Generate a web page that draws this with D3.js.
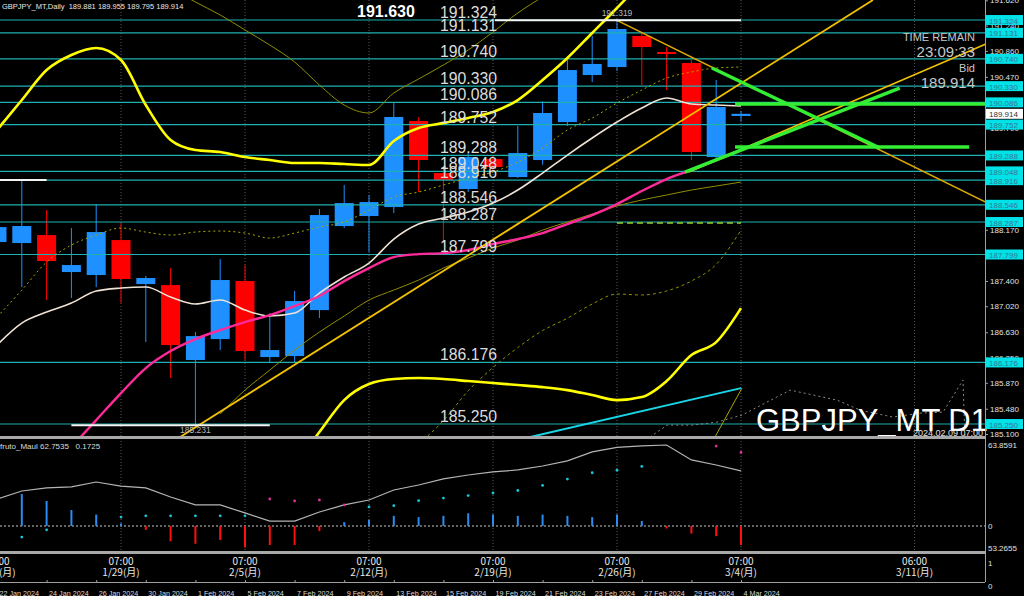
<!DOCTYPE html>
<html><head><meta charset="utf-8">
<script src="https://cdn.jsdelivr.net/npm/d3@7"></script>
<style>
body{margin:0;background:#000;overflow:hidden}
svg{display:block;font-family:"Liberation Sans",Arial,sans-serif}
</style></head>
<body><svg id="c" width="1024" height="596"></svg>
<script>
// ---------- DATA ----------
const dates = ["22 Jan 2024","23 Jan 2024","24 Jan 2024","25 Jan 2024","26 Jan 2024","29 Jan 2024","30 Jan 2024","31 Jan 2024","1 Feb 2024","2 Feb 2024","5 Feb 2024","6 Feb 2024","7 Feb 2024","8 Feb 2024","9 Feb 2024","12 Feb 2024","13 Feb 2024","14 Feb 2024","15 Feb 2024","16 Feb 2024","19 Feb 2024","20 Feb 2024","21 Feb 2024","22 Feb 2024","23 Feb 2024","26 Feb 2024","27 Feb 2024","28 Feb 2024","29 Feb 2024","1 Mar 2024","4 Mar 2024"];
const open  = [187.986,187.971,188.091,187.535,187.490,188.016,187.354,187.339,186.212,186.527,187.400,186.257,186.272,186.963,188.226,188.377,188.512,189.805,189.024,188.783,189.234,188.963,189.219,189.790,190.497,190.617,191.084,190.843,190.678,189.264,189.881];
const high  = [188.350,188.918,188.467,188.196,188.557,188.272,187.475,187.595,186.633,187.730,187.640,186.918,187.249,188.482,188.843,188.693,190.076,189.866,189.090,189.340,189.290,189.730,190.100,190.723,191.084,191.319,191.130,190.918,190.723,190.422,189.955];
const low   = [187.900,187.309,187.114,187.144,187.309,187.069,186.482,185.941,185.231,186.362,186.212,186.167,186.181,186.843,188.196,187.836,188.422,188.738,187.971,188.738,189.050,188.950,189.150,189.730,190.392,190.557,190.347,190.272,189.219,189.219,189.795];
const close = [188.211,188.227,187.700,187.640,188.136,187.430,187.445,186.437,186.572,187.415,186.347,186.362,187.099,188.392,188.572,188.587,189.866,189.219,188.918,189.264,189.114,189.324,189.926,190.572,190.663,191.189,190.918,190.813,189.339,190.016,189.914];

const maWhite   = [186.437,186.768,186.933,187.069,187.249,187.294,187.309,187.159,187.054,187.114,186.963,186.873,186.918,187.219,187.460,187.670,188.031,188.257,188.347,188.437,188.572,188.768,189.023,189.294,189.550,189.790,190.001,190.151,190.061,190.046,190.031];
const maMagenta = [null,null,null,184.903,185.309,185.715,186.091,186.347,186.527,186.663,186.783,186.888,187.023,187.174,187.399,187.595,187.760,187.805,187.820,187.866,187.956,188.031,188.121,188.257,188.392,188.557,188.753,188.933,189.069,189.219,189.369];
const bandUpper2 = [189.670,190.121,190.572,190.798,190.903,190.723,190.046,189.520,189.369,189.339,189.264,189.219,189.174,189.174,189.159,189.144,189.505,189.700,189.775,189.851,189.941,190.121,190.422,190.753,191.129,191.505,191.896,null,null,null,null];
const bandLower2 = [null,null,null,null,null,null,null,null,null,null,null,null,184.633,185.129,185.610,185.851,185.926,185.941,185.926,185.896,185.866,185.836,185.805,185.760,185.685,185.610,185.655,185.896,186.287,186.482,186.993];
const bandUpper3 = [null,null,null,null,null,null,null,191.800,191.595,191.400,191.174,190.948,190.693,190.347,190.046,189.926,190.227,190.437,190.648,190.873,191.144,191.430,191.670,null,null,null,null,null,null,null,null];
const bandUpper1 = [186.858,187.264,187.685,187.941,188.091,188.197,188.136,188.091,188.136,188.152,188.121,188.046,188.121,188.212,188.287,188.467,188.663,188.738,188.843,188.948,189.039,189.189,189.400,189.670,189.851,190.076,190.272,190.452,190.542,190.603,190.617];
const bandLower1 = [null,null,null,null,null,null,null,null,null,185.400,185.760,186.061,186.362,186.633,186.873,187.114,187.264,187.414,187.595,187.745,187.896,188.016,188.166,188.287,188.407,188.528,188.618,188.693,188.768,188.828,188.888];
const bandLower1d = [null,null,null,null,null,null,null,null,null,null,null,null,null,null,null,null,null,184.950,185.300,185.750,186.100,186.400,186.655,186.841,187.054,187.204,187.190,187.250,187.400,187.650,188.166];

const levels = [191.324,191.131,190.740,190.330,190.086,189.752,189.288,189.048,188.916,188.546,188.287,187.799,186.176,185.250];
const priceTicks = [185.100,185.480,185.870,186.250,186.630,187.020,187.400,187.790,188.170,188.550,188.930,189.310,189.700,190.080,190.470,190.860,191.240,191.620];
const bid = 189.914;

// trend lines: [index, price] pairs
const trendB = [[7.38,185.054],[35.32,191.625]];
const trendC = [[27.9,189.040],[41.4,191.210]];
const trendD = [[25.0,191.319],[39.84,188.590]];
const greenLines = [
  [[28.83,190.602],[35.60,189.399]],
  [[27.74,189.038],[36.40,190.300]],
  [[29.76,190.061],[39.84,190.061]],
  [[29.76,189.414],[39.20,189.414]]
];
const cyanTrend = [[21.49,185.054],[30.0,185.790]];
const oliveSteep = [[28.95,185.054],[30.04,185.790]];
const futureDots = [[26.33,185.054],[27.02,185.234],[28.06,185.234],[29.03,185.279],[30.04,185.384],[31.98,185.760],[33.87,185.610],[34.8,185.459],[36.13,185.354],[37.22,185.414],[38.15,185.429],[38.95,185.911],[39.03,185.054]];
const limeDash = [[25.0,188.272],[30.0,188.272]];
const whiteMarks = [[-0.2,2.0,188.918],[20.08,30.0,191.319],[3.0,11.0,185.231]];

// indicator panel
const oscLine = [21.3,27.6,30.0,30.8,34.7,31.5,30.0,22.9,16.6,16.6,10.3,3.9,3.9,11.0,16.6,20.5,28.4,32.3,37.1,40.2,42.6,44.2,47.3,51.3,58.4,62.0,63.2,63.86,52.1,48.1,43.4];
const histVals = [0,25.2,19.7,12.6,9.0,2.0,-3.0,-12.0,-14.0,-11.0,-17.0,-15.0,-15.0,-4.0,3.0,5.0,8.0,7.0,8.0,10.0,9.0,8.0,9.0,8.0,7.0,9.0,4.0,-2.0,-6.0,-8.0,-15.0];
const dotVals  = [null,-8.7,-3.0,null,null,7.0,8.0,8.0,8.0,8.0,8.0,21.3,19.7,20.5,16.6,15.0,16.0,20.0,22.0,24.0,26.0,28.0,32.0,37.0,42.0,44.0,47.0,null,null,63.0,58.0];
const dotPink  = [0,0,0,0,0,0,0,0,0,0,0,1,1,1,1,0,0,0,0,0,0,0,0,0,0,0,0,0,0,1,1];

const weekLabels = [{i:0,t:"07:00",d:"1/22(月)"},{i:5,t:"07:00",d:"1/29(月)"},{i:10,t:"07:00",d:"2/5(月)"},{i:15,t:"07:00",d:"2/12(月)"},{i:20,t:"07:00",d:"2/19(月)"},{i:25,t:"07:00",d:"2/26(月)"},{i:30,t:"07:00",d:"3/4(月)"},{i:37,t:"06:00",d:"3/11(月)"}];

// ---------- SCALES ----------
const svg = d3.select("#c");
const x = d3.scaleLinear().domain([0,30]).range([-3,741]);
const y = d3.scaleLinear().domain([185.100,191.625]).range([434,0]);
const yi = d3.scaleLinear().domain([0,63.8591]).range([526,445]);
const AX = 985;

svg.append("rect").attr("width",1024).attr("height",596).attr("fill","#000");
const defs = svg.append("defs");
defs.append("clipPath").attr("id","cm").append("rect").attr("x",0).attr("y",0).attr("width",AX).attr("height",436);
defs.append("clipPath").attr("id","ci").append("rect").attr("x",0).attr("y",440).attr("width",AX).attr("height",111);

// grid (dotted verticals)
const gridIdx = [0,5,10,15,20,25,30,37];
svg.append("g").selectAll("line").data(gridIdx).join("line")
  .attr("x1",d=>x(d)).attr("x2",d=>x(d)).attr("y1",0).attr("y2",551)
  .attr("stroke","#5a5a5a").attr("stroke-dasharray","1,2");

const main = svg.append("g").attr("clip-path","url(#cm)");

// candles
const cg = main.append("g");
d3.range(31).forEach(i=>{
  const up = close[i] >= open[i];
  const col = up ? "#1e90ff" : "#ff0000";
  cg.append("line").attr("x1",x(i)).attr("x2",x(i)).attr("y1",y(high[i])).attr("y2",y(low[i])).attr("stroke",col).attr("stroke-width",1);
  const t = y(Math.max(open[i],close[i])), b = y(Math.min(open[i],close[i]));
  cg.append("rect").attr("x",x(i)-9.5).attr("width",19).attr("y",t).attr("height",Math.max(1.5,b-t)).attr("fill",col);
});

const ln = d3.line().defined(d=>d!=null).x((d,i)=>x(i)).y(d=>y(d)).curve(d3.curveMonotoneX);
const lp = d3.line().x(d=>x(d[0])).y(d=>y(d[1]));
function series(arr,col,w,dash){ main.append("path").attr("d",ln(arr)).attr("fill","none").attr("stroke",col).attr("stroke-width",w).attr("stroke-dasharray",dash||null); }
function seg(pts,col,w,dash){ main.append("path").attr("d",lp(pts)).attr("fill","none").attr("stroke",col).attr("stroke-width",w).attr("stroke-dasharray",dash||null); }

// horizontal levels
main.append("g").selectAll("line").data(levels).join("line")
  .attr("x1",0).attr("x2",AX).attr("y1",d=>y(d)).attr("y2",d=>y(d))
  .attr("stroke","#1fb0b0").attr("stroke-width",1.2);

series(bandUpper3,"#8f8f00",1);
series(bandLower1d,"#8f8f00",1,"3,3");
series(bandUpper1,"#a8a800",1,"2,3");
series(bandLower1,"#8f8f00",1);
series(bandUpper2,"#ffff00",2.6);
series(bandLower2,"#ffff00",2.6);
series(maWhite,"#efe3d6",1.6);
series(maMagenta,"#ff2a9a",2.4);

seg(cyanTrend,"#19d6e6",2);
seg(oliveSteep,"#a8a800",1);
seg(futureDots,"#8a8a8a",1,"2,3");
seg(limeDash,"#9acd32",1.3,"6,4");
seg(trendB,"#f2c200",1.8);
seg(trendC,"#f2c200",1.6);
seg(trendD,"#e0a800",1.6);
greenLines.forEach(g=>seg(g,"#33ee33",3.5));

// white marks
whiteMarks.forEach(m=>{
  main.append("line").attr("x1",x(m[0])).attr("x2",x(m[1])).attr("y1",y(m[2])).attr("y2",y(m[2])).attr("stroke","#f4f4f4").attr("stroke-width",2);
});

// level text labels
main.append("g").selectAll("text").data(levels).join("text")
  .attr("x",440).attr("y",d=>y(d)-2).text(d=>d.toFixed(3))
  .attr("fill","#dcdcdc").attr("font-size",17).attr("textLength",57).attr("lengthAdjust","spacingAndGlyphs");
svg.append("text").attr("x",357).attr("y",17).text("191.630").attr("fill","#fff").attr("font-size",16).attr("font-weight","bold");
svg.append("text").attr("x",x(25)).attr("y",y(191.319)-4).text("191.319").attr("fill","#b8b8b8").attr("font-size",8.5).attr("text-anchor","middle");
svg.append("text").attr("x",x(8)).attr("y",433).text("185.231").attr("fill","#b8b8b8").attr("font-size",8.5).attr("text-anchor","middle");

// header
svg.append("text").attr("x",2).attr("y",9).text("GBPJPY_MT,Daily  189.881 189.955 189.795 189.914").attr("fill","#e8e8e8").attr("font-size",7.5).style("white-space","pre");

// time remain block
const tr = svg.append("g").attr("fill","#c8c8c8").attr("text-anchor","end");
tr.append("text").attr("x",975).attr("y",41).attr("font-size",11).text("TIME REMAIN");
tr.append("text").attr("x",975).attr("y",57).attr("font-size",15).text("23:09:33");
tr.append("text").attr("x",975).attr("y",72).attr("font-size",11).text("Bid");
tr.append("text").attr("x",975).attr("y",88).attr("font-size",15).text(bid.toFixed(3));

// symbol watermark
svg.append("text").attr("x",756).attr("y",431).text("GBPJPY_MT D1").attr("fill","#ffffff").attr("font-size",31);
svg.append("text").attr("x",983).attr("y",436).text("2024.02.09 07:00").attr("fill","#e0e0e0").attr("font-size",9).attr("text-anchor","end");

// right price axis
const ya = svg.append("g").attr("transform",`translate(${AX},0)`).call(d3.axisRight(y).tickValues(priceTicks).tickFormat(d3.format(".3f")).tickSize(3).tickPadding(2));
ya.select(".domain").remove();
ya.selectAll("line").attr("stroke","#a0a0a0");
ya.selectAll("text").attr("fill","#e0e0e0").attr("font-size",8).attr("font-family","Liberation Sans, Arial");
svg.append("line").attr("x1",AX+0.5).attr("x2",AX+0.5).attr("y1",0).attr("y2",582).attr("stroke","#a0a0a0");

// level boxes
const lb = svg.append("g");
levels.forEach(l=>{
  lb.append("rect").attr("x",AX+1).attr("y",y(l)-5).attr("width",37).attr("height",10).attr("fill","#00e1e8");
  lb.append("text").attr("x",AX+4).attr("y",y(l)+3.5).text(l.toFixed(3)).attr("fill","#3b7890").attr("font-size",8);
});
lb.append("rect").attr("x",AX+1).attr("y",y(bid)-5).attr("width",37).attr("height",10).attr("fill","#ffffff");
lb.append("text").attr("x",AX+4).attr("y",y(bid)+3.5).text(bid.toFixed(3)).attr("fill","#333").attr("font-size",8);

// separators
svg.append("rect").attr("x",0).attr("y",436).attr("width",AX+1).attr("height",3).attr("fill","#a8a8a8");
svg.append("rect").attr("x",0).attr("y",551).attr("width",AX+1).attr("height",3).attr("fill","#a8a8a8");

// ---------- indicator panel ----------
const ind = svg.append("g").attr("clip-path","url(#ci)");
ind.append("line").attr("x1",0).attr("x2",AX).attr("y1",yi(0)).attr("y2",yi(0)).attr("stroke","#c8c8c8").attr("stroke-dasharray","2,2");
ind.selectAll("line.h").data(histVals).join("line").attr("class","h")
  .attr("x1",(d,i)=>x(i)).attr("x2",(d,i)=>x(i)).attr("y1",yi(0)).attr("y2",d=>yi(d))
  .attr("stroke",d=>d>=0?"#2a8cf0":"#ff1010").attr("stroke-width",2);
ind.append("path").attr("d",d3.line().x((d,i)=>x(i)).y(d=>yi(d))(oscLine)).attr("fill","none").attr("stroke","#b4b4b4").attr("stroke-width",1.2);
ind.selectAll("circle").data(dotVals.map((v,i)=>({v,i})).filter(d=>d.v!=null)).join("circle")
  .attr("cx",d=>x(d.i)).attr("cy",d=>yi(d.v)).attr("r",1.4)
  .attr("fill",d=>dotPink[d.i]?"#e0309a":"#19c8d8");
svg.append("text").attr("x",0).attr("y",449).text("fruto_Maul 62.7535   0.1725").attr("fill","#dcdcdc").attr("font-size",8).style("white-space","pre");
const ir = svg.append("g").attr("fill","#e0e0e0").attr("font-size",8);
ir.append("text").attr("x",988).attr("y",448).text("63.8591");
ir.append("text").attr("x",988).attr("y",529).text("0");
ir.append("text").attr("x",988).attr("y",551).text("53.2655");
ir.append("text").attr("x",988).attr("y",566).text("1");
ir.append("text").attr("x",988).attr("y",589).text("0");

// ---------- time axis ----------
svg.append("line").attr("x1",0).attr("x2",AX).attr("y1",582.5).attr("y2",582.5).attr("stroke","#a0a0a0");
const tl = svg.append("g").attr("fill","#e8e8e8").attr("text-anchor","middle").attr("font-family","'Noto Sans CJK JP','DejaVu Sans Mono',monospace");
weekLabels.forEach(w=>{
  tl.append("text").attr("x",x(w.i)).attr("y",565).attr("font-size",10).text(w.t);
  tl.append("text").attr("x",x(w.i)).attr("y",576).attr("font-size",10).text(w.d);
});
const xa = svg.append("g").attr("transform","translate(0,583)")
  .call(d3.axisBottom(x).tickValues(d3.range(0,31,2)).tickFormat(i=>dates[i]).tickSize(-3).tickPadding(0));
xa.select(".domain").remove();
xa.selectAll("line").attr("stroke","#a0a0a0");
xa.selectAll("text").attr("fill","#d8d8d8").attr("font-size",7.2).attr("text-anchor","start").attr("dx",2).attr("y",8).attr("font-family","Liberation Sans, Arial");
</script></body></html>
